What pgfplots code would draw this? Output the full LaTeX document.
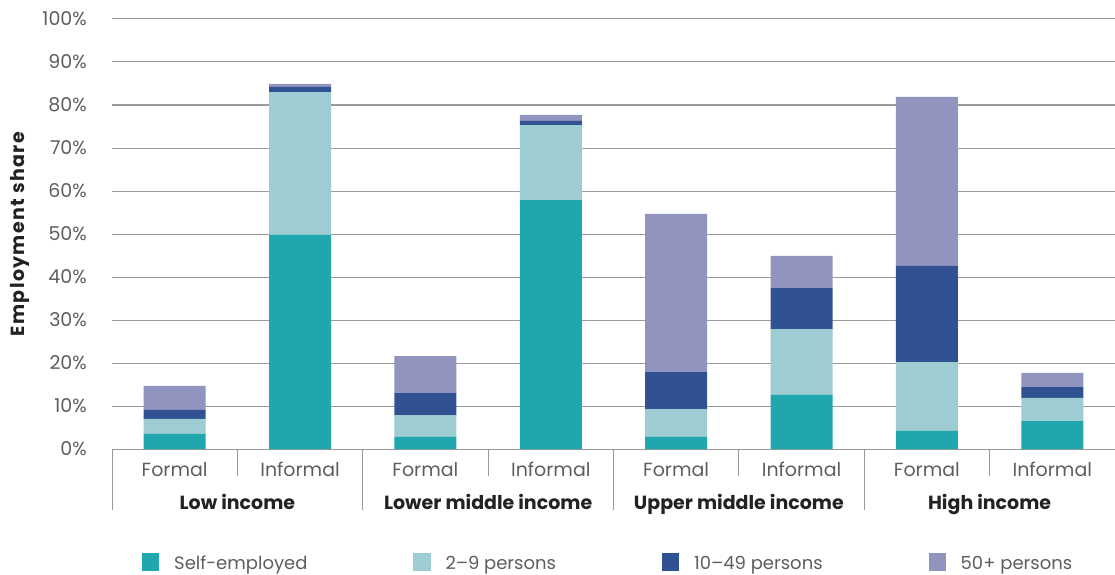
\documentclass[border=0pt]{standalone}
\usepackage{fontspec}
\setmainfont{Poppins}
\usepackage{pgfplots}
\pgfplotsset{compat=1.18}

\definecolor{selfemp}{HTML}{20A6AD}
\definecolor{small}{HTML}{9DCCD2}
\definecolor{mid}{HTML}{315292}
\definecolor{large}{HTML}{9294C0}
\definecolor{gridgray}{HTML}{9A9A9A}
\definecolor{ticktext}{HTML}{5E5E5E}
\definecolor{boldtext}{HTML}{222222}

% employment shares (%) by firm size, stacked
\pgfplotstableread{
x  se    s29   s1049  s50
1  3.5   3.5   2.1    5.6
2  49.8  33.2  1.2    0.7
3  2.8   5.1   5.1    8.6
4  57.9  17.4  1.0    1.4
5  2.8   6.5   8.6    36.8
6  12.6  15.3  9.5    7.5
7  4.2   16.0  22.4   39.3
8  6.5   5.4   2.5    3.3
}\shares

\pgfplotsset{legsq/.style={legend image code/.code={\path[##1, draw=none] (0pt,-7pt) rectangle (17pt,11pt);}}}
\newcommand\lbl{\fontsize{19}{22}\selectfont}
\newcommand\leg{\fontsize{18}{21}\selectfont}

\begin{document}
\begin{tikzpicture}[font=\lbl]
\begin{axis}[
    scale only axis,
    width=1003pt, height=430pt,
    xmin=0.5, xmax=8.5,
    ymin=0, ymax=100,
    clip=false,
    ybar stacked,
    bar width=62pt,
    xtick={1,...,8},
    xticklabels={Formal,Informal,Formal,Informal,Formal,Informal,Formal,Informal},
    ytick={0,10,...,100},
    yticklabels={0\%,10\%,20\%,30\%,40\%,50\%,60\%,70\%,80\%,90\%,100\%},
    major tick length=0pt,
    axis line style={draw=none},
    ymajorgrids,
    grid style={draw=gridgray, line width=1pt},
    xticklabel style={anchor=base, inner sep=0pt, yshift=-27.5pt, text=ticktext},
    yticklabel style={anchor=east, inner sep=0pt, xshift=-25pt, text=ticktext},
    legend columns=4,
    legend cell align=left,
    legend style={at={(0,0)}, anchor=west, xshift=30pt, yshift=-113pt, font=\leg,
        draw=none, inner sep=0pt, nodes={inner sep=0pt, text=ticktext},
        /tikz/every odd column/.append style={column sep=15pt},
        /tikz/every even column/.append style={column sep=106pt}},
]
\addplot[fill=selfemp, draw=none, legsq] table[x=x, y=se] {\shares};
\addplot[fill=small, draw=none, legsq] table[x=x, y=s29] {\shares};
\addplot[fill=mid, draw=none, legsq] table[x=x, y=s1049] {\shares};
\addplot[fill=large, draw=none, legsq] table[x=x, y=s50] {\shares};
\legend{Self-employed, 2–9 persons, 10–49 persons, 50+ persons}

% category separators
\pgfplotsinvokeforeach{0.5,2.5,4.5,6.5}{\draw[gridgray, line width=1pt] (axis cs:#1,0) -- ++(0pt,-61pt);}
\pgfplotsinvokeforeach{1.5,3.5,5.5,7.5}{\draw[gridgray, line width=1pt] (axis cs:#1,0) -- ++(0pt,-27pt);}
% group labels
\path (axis cs:1.5,0) ++(0pt,-60pt) node[anchor=base, inner sep=0pt, text=boldtext, font=\lbl\bfseries] {Low income};
\path (axis cs:3.5,0) ++(0pt,-60pt) node[anchor=base, inner sep=0pt, text=boldtext, font=\lbl\bfseries] {Lower middle income};
\path (axis cs:5.5,0) ++(0pt,-60pt) node[anchor=base, inner sep=0pt, text=boldtext, font=\lbl\bfseries] {Upper middle income};
\path (axis cs:7.5,0) ++(0pt,-60pt) node[anchor=base, inner sep=0pt, text=boldtext, font=\lbl\bfseries] {High income};
\path (rel axis cs:0,0.5) ++(-92pt,0pt) node[rotate=90, anchor=center, inner sep=0pt, text=boldtext, font=\lbl\bfseries\addfontfeatures{LetterSpace=7}] {Employment share};

\coordinate (bl) at (rel axis cs:0,0);
\coordinate (tr) at (rel axis cs:1,1);
\end{axis}
\pgfresetboundingbox
\path[use as bounding box] ([xshift=-112pt,yshift=-125pt]bl) rectangle ([yshift=19pt]tr);
\end{tikzpicture}
\end{document}
